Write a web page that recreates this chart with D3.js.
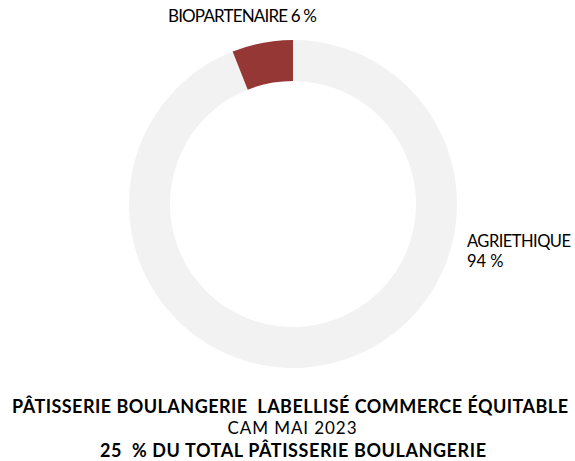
<!DOCTYPE html>
<html>
<head>
<meta charset="utf-8">
<script src="https://cdn.jsdelivr.net/npm/d3@7"></script>
<style>
  body { margin: 0; background: #fff; }
  svg { display: block; }
  text { white-space: pre; }
</style>
</head>
<body>
<div id="chart"></div>
<script>
// Data
const categories = ['AGRIETHIQUE', 'BIOPARTENAIRE'];
const shares = [94, 6];
const colors = ['#f2f2f2', '#953735'];
const titleLines = [
  'PÂTISSERIE BOULANGERIE  LABELLISÉ COMMERCE ÉQUITABLE',
  'CAM MAI 2023',
  '25  % DU TOTAL PÂTISSERIE BOULANGERIE'
];

const width = 575, height = 461;
const cx = 293, cy = 204;
const outerR = 164, innerR = 123;

const svg = d3.select('#chart').append('svg')
  .attr('width', width)
  .attr('height', height);

const data = categories.map((c, i) => ({ name: c, value: shares[i], color: colors[i] }));

const pie = d3.pie()
  .value(d => d.value)
  .sort(null);

const arc = d3.arc()
  .innerRadius(innerR)
  .outerRadius(outerR);

const g = svg.append('g')
  .attr('transform', `translate(${cx},${cy})`);

g.selectAll('path')
  .data(pie(data))
  .enter().append('path')
  .attr('d', arc)
  .attr('fill', d => d.data.color);

// slice labels
const labelFont = 'Lato, sans-serif';
svg.append('text')
  .attr('x', 168)
  .attr('y', 22)
  .attr('font-family', labelFont)
  .attr('font-size', '17px')
  .attr('textLength', 149)
  .attr('lengthAdjust', 'spacing')
  .attr('fill', '#000')
  .text(`${categories[1]} ${shares[1]} %`);

const agri = svg.append('text')
  .attr('x', 467)
  .attr('y', 247)
  .attr('font-family', labelFont)
  .attr('font-size', '16.5px')
  .attr('fill', '#000');
agri.append('tspan').attr('x', 467).attr('textLength', 104).attr('lengthAdjust', 'spacing').text(categories[0]);
agri.append('tspan').attr('x', 467).attr('dy', 20).text(`${shares[0]} %`);

// title below
const titleY = [413, 434, 457];
const titleX = [290, 292, 293];
const titleW = [556, 129, 386];
const titleSize = [18, 17, 18];
const titleWeight = ['bold', 'normal', 'bold'];
svg.selectAll('text.title')
  .data(titleLines)
  .enter().append('text')
  .attr('class', 'title')
  .attr('x', (d, i) => titleX[i])
  .attr('y', (d, i) => titleY[i])
  .attr('text-anchor', 'middle')
  .attr('font-family', 'Lato, sans-serif')
  .attr('font-size', (d, i) => titleSize[i] + 'px')
  .attr('font-weight', (d, i) => titleWeight[i])
  .attr('textLength', (d, i) => titleW[i])
  .attr('lengthAdjust', 'spacing')
  .attr('fill', '#000')
  .text(d => d);
</script>
</body>
</html>
